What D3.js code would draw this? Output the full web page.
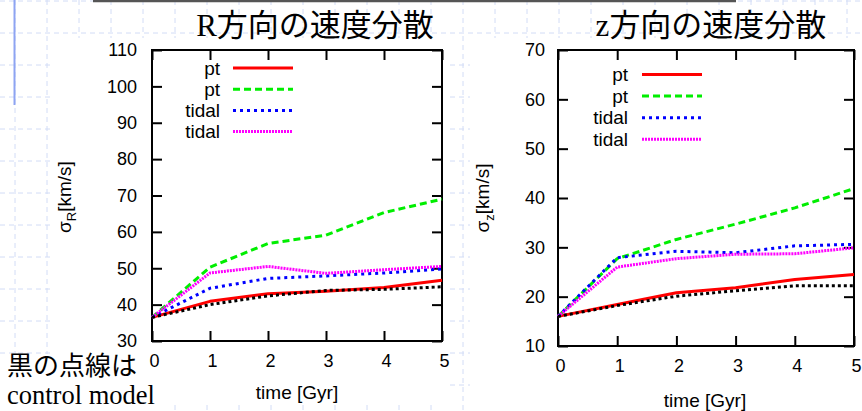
<!DOCTYPE html>
<html>
<head>
<meta charset="utf-8">
<script src="https://cdn.jsdelivr.net/npm/d3@7"></script>
<style>
  html, body { margin: 0; padding: 0; background: #fff; }
  svg { display: block; }
  .tick text { font-family: "Liberation Sans", Arial, sans-serif; fill: #000; }
</style>
</head>
<body>
<svg id="chart" width="862" height="411"></svg>
<script>
// Time axis (Gyr)
const timeGyr = [0, 1, 2, 3, 4, 5];

// Radial velocity dispersion sigma_R [km/s]
const sigmaR_ptSolid   = [36.5, 40.9, 43.0, 43.7, 44.7, 46.7];
const sigmaR_ptDashed  = [36.5, 50.3, 56.8, 59.1, 65.3, 69.0];
const sigmaR_tidalBlue = [36.5, 44.5, 47.2, 47.9, 48.7, 49.8];
const sigmaR_tidalPink = [36.5, 48.7, 50.5, 48.6, 49.6, 50.5];
const sigmaR_control   = [36.5, 40.0, 42.4, 43.9, 44.2, 44.9];

// Vertical velocity dispersion sigma_z [km/s]
const sigmaZ_ptSolid   = [16.0, 18.4, 20.8, 21.8, 23.5, 24.5];
const sigmaZ_ptDashed  = [16.0, 27.7, 31.6, 34.7, 38.0, 41.9];
const sigmaZ_tidalBlue = [16.0, 27.9, 29.2, 28.9, 30.3, 30.6];
const sigmaZ_tidalPink = [16.0, 26.0, 27.7, 28.6, 28.7, 29.9];
const sigmaZ_control   = [16.0, 18.2, 20.1, 21.2, 22.2, 22.2];

// Tick values
const xTicks = [0, 1, 2, 3, 4, 5];
const yTicksR = [30, 40, 50, 60, 70, 80, 90, 100, 110];
const yTicksZ = [10, 20, 30, 40, 50, 60, 70];

// Legend labels
const legendLabels = ["pt", "pt", "tidal", "tidal"];

const styles = {
  ptSolid:   { color: "#ff0000", dash: null },
  ptDashed:  { color: "#00ee00", dash: "7,4" },
  tidalBlue: { color: "#0000ff", dash: "3,4" },
  tidalPink: { color: "#ff00ff", dash: "2,1" },
  control:   { color: "#000000", dash: "3,3" }
};

const svg = d3.select("#chart");

// ---- background: graph paper ----
const bg = svg.append("g");
bg.append("rect").attr("width", 862).attr("height", 411).attr("fill", "#fff");
d3.range(15, 862, 32).forEach(x => {
  bg.append("line").attr("x1", x).attr("x2", x).attr("y1", 0).attr("y2", 411)
    .attr("stroke", "#d2dcf6").attr("stroke-width", 1).attr("stroke-dasharray", "5,4");
});
d3.range(1, 411, 32).forEach(y => {
  bg.append("line").attr("x1", 0).attr("x2", 862).attr("y1", y).attr("y2", y)
    .attr("stroke", "#d2dcf6").attr("stroke-width", 1).attr("stroke-dasharray", "5,4");
});
bg.append("line").attr("x1", 14.5).attr("x2", 14.5).attr("y1", 0).attr("y2", 105)
  .attr("stroke", "#8ea4f2").attr("stroke-width", 2);
bg.append("line").attr("x1", 93).attr("x2", 736).attr("y1", 1).attr("y2", 1)
  .attr("stroke", "#555").attr("stroke-width", 2.5);

// white panels behind the plots
bg.append("rect").attr("x", 52).attr("y", 38).attr("width", 396).attr("height", 367).attr("fill", "#fff");
bg.append("rect").attr("x", 470).attr("y", 38).attr("width", 392).attr("height", 373).attr("fill", "#fff");

// note about the black dotted line (drawn under the plots)
const note = svg.append("g");
note.append("rect").attr("x", 0).attr("y", 354).attr("width", 160).attr("height", 57).attr("fill", "#fff");
note.append("text")
  .attr("x", 7).attr("y", 375)
  .attr("font-family", "'Noto Sans CJK JP', sans-serif")
  .attr("font-size", "26px")
  .text("黒の点線は");
note.append("text")
  .attr("x", 7).attr("y", 404)
  .attr("font-family", "'Liberation Serif', 'Times New Roman', serif")
  .attr("font-size", "26.5px")
  .text("control model");

function drawPanel(cfg) {
  const g = svg.append("g");
  const x = d3.scaleLinear().domain([0, 5]).range([cfg.left, cfg.right]);
  const y = d3.scaleLinear().domain(cfg.yDomain).range([cfg.bottom, cfg.top]);

  const fontAxis = "18px";

  // bottom axis with labels
  const ax = g.append("g").attr("transform", `translate(0,${cfg.bottom})`)
    .call(d3.axisBottom(x).tickValues(xTicks).tickSize(-10).tickPadding(13).tickFormat(d3.format("d")));
  ax.selectAll("text").attr("font-size", fontAxis).attr("dx", 2);
  // top mirrored ticks
  g.append("g").attr("transform", `translate(0,${cfg.top})`)
    .call(d3.axisTop(x).tickValues(xTicks).tickSize(-10).tickFormat(""));
  // left axis with labels
  const ay = g.append("g").attr("transform", `translate(${cfg.left},0)`)
    .call(d3.axisLeft(y).tickValues(cfg.yTicks).tickSize(-10).tickPadding(cfg.yPad).tickFormat(d3.format("d")));
  ay.selectAll("text").attr("font-size", fontAxis);
  // right mirrored ticks
  g.append("g").attr("transform", `translate(${cfg.right},0)`)
    .call(d3.axisRight(y).tickValues(cfg.yTicks).tickSize(-10).tickFormat(""));

  g.selectAll(".domain").remove();
  g.selectAll(".tick line").attr("stroke", "#000").attr("stroke-width", 2);

  // frame
  g.append("rect")
    .attr("x", cfg.left).attr("y", cfg.top)
    .attr("width", cfg.right - cfg.left).attr("height", cfg.bottom - cfg.top)
    .attr("fill", "none").attr("stroke", "#000").attr("stroke-width", 2);

  // series
  const line = d3.line().x((d, i) => x(timeGyr[i])).y(d => y(d));
  cfg.series.forEach(s => {
    g.append("path").datum(s.values)
      .attr("d", line)
      .attr("fill", "none")
      .attr("stroke", s.style.color)
      .attr("stroke-width", 3)
      .attr("stroke-dasharray", s.style.dash)
      .attr("stroke-linejoin", "round");
  });

  // legend
  const lg = g.append("g");
  cfg.series.filter(s => s.legend != null).forEach((s, i) => {
    const yy = cfg.legendTop + i * cfg.legendStep;
    lg.append("text")
      .attr("x", cfg.legendTextX).attr("y", yy)
      .attr("dy", "0.35em")
      .attr("text-anchor", "end")
      .attr("font-family", "'Liberation Sans', Arial, sans-serif")
      .attr("font-size", "19px")
      .text(legendLabels[s.legend]);
    lg.append("line")
      .attr("x1", cfg.legendLineX).attr("x2", cfg.legendLineX + 60)
      .attr("y1", yy).attr("y2", yy)
      .attr("stroke", s.style.color)
      .attr("stroke-width", 3)
      .attr("stroke-dasharray", s.style.dash);
  });

  // x axis label
  g.append("text")
    .attr("x", cfg.xLabelX).attr("y", cfg.xLabelY)
    .attr("text-anchor", "middle")
    .attr("font-family", "'Liberation Sans', Arial, sans-serif")
    .attr("font-size", "19px")
    .text("time [Gyr]");

  // y axis label (rotated)
  const yl = g.append("text")
    .attr("transform", `translate(${cfg.yLabelX},${cfg.yLabelY}) rotate(-90)`)
    .attr("text-anchor", "middle")
    .attr("font-family", "'Liberation Sans', Arial, sans-serif")
    .attr("font-size", "19px");
  yl.append("tspan").text("σ");
  yl.append("tspan").attr("font-size", "13px").attr("dy", "5").text(cfg.sub);
  yl.append("tspan").attr("dy", "-5").text("[km/s]");

  // title
  const t = svg.append("text")
    .attr("x", cfg.titleX).attr("y", 36)
    .attr("text-anchor", "middle")
    .attr("font-size", "31px");
  t.append("tspan").attr("font-family", "'Liberation Serif', 'Times New Roman', serif").text(cfg.titleLead);
  t.append("tspan").attr("font-family", "'Noto Sans CJK JP', sans-serif").text("方向の速度分散");
}

drawPanel({
  left: 152, right: 442, top: 50, bottom: 341,
  yDomain: [30, 110], yTicks: yTicksR, yPad: 15,
  legendTop: 68, legendStep: 21.2, legendTextX: 220, legendLineX: 233,
  xLabelX: 297, xLabelY: 399,
  yLabelX: 71, yLabelY: 197, sub: "R",
  titleX: 315, titleLead: "R",
  series: [
    { values: sigmaR_ptSolid,   style: styles.ptSolid,   legend: 0 },
    { values: sigmaR_ptDashed,  style: styles.ptDashed,  legend: 1 },
    { values: sigmaR_tidalBlue, style: styles.tidalBlue, legend: 2 },
    { values: sigmaR_tidalPink, style: styles.tidalPink, legend: 3 },
    { values: sigmaR_control,   style: styles.control,   legend: null }
  ]
});

drawPanel({
  left: 558, right: 854, top: 50, bottom: 346,
  yDomain: [10, 70], yTicks: yTicksZ, yPad: 13,
  legendTop: 74.5, legendStep: 21.6, legendTextX: 628, legendLineX: 642,
  xLabelX: 705, xLabelY: 407,
  yLabelX: 489, yLabelY: 198, sub: "z",
  titleX: 711, titleLead: "z",
  series: [
    { values: sigmaZ_ptSolid,   style: styles.ptSolid,   legend: 0 },
    { values: sigmaZ_ptDashed,  style: styles.ptDashed,  legend: 1 },
    { values: sigmaZ_tidalBlue, style: styles.tidalBlue, legend: 2 },
    { values: sigmaZ_tidalPink, style: styles.tidalPink, legend: 3 },
    { values: sigmaZ_control,   style: styles.control,   legend: null }
  ]
});
</script>
</body>
</html>
